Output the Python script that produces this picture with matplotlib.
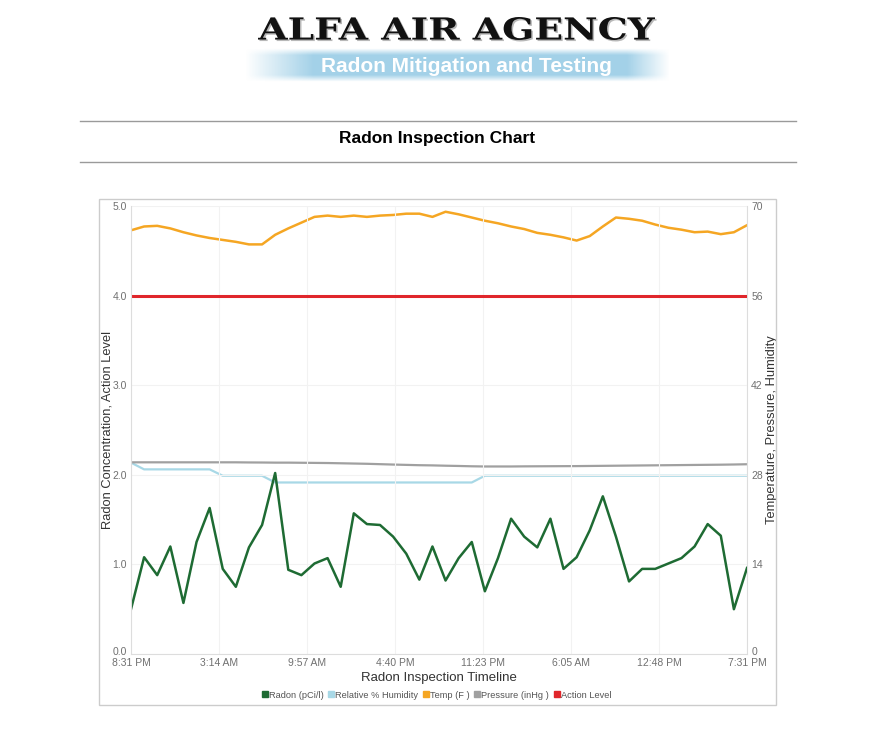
import matplotlib.pyplot as plt
import numpy as np
from matplotlib.lines import Line2D
from matplotlib.patches import Rectangle, PathPatch
from matplotlib.textpath import TextPath
from matplotlib.font_manager import FontProperties
from matplotlib.transforms import Affine2D, IdentityTransform, ScaledTranslation

# hourly readings, 8:31 PM to 7:31 PM (48 points)
radon = [0.50, 1.08, 0.88, 1.20, 0.57, 1.25, 1.63, 0.95, 0.75, 1.19, 1.44, 2.02,
         0.94, 0.88, 1.01, 1.07, 0.75, 1.57, 1.45, 1.44, 1.31, 1.12, 0.83, 1.20,
         0.82, 1.07, 1.25, 0.70, 1.07, 1.51, 1.31, 1.19, 1.51, 0.95, 1.08, 1.38,
         1.76, 1.31, 0.81, 0.95, 0.95, 1.01, 1.07, 1.20, 1.45, 1.32, 0.50, 0.96]
temp = [66.2, 66.8, 66.9, 66.5, 65.9, 65.4, 65.0, 64.7, 64.4, 64.0, 64.0, 65.5,
        66.5, 67.4, 68.3, 68.5, 68.3, 68.5, 68.3, 68.5, 68.6, 68.8, 68.8, 68.3,
        69.1, 68.7, 68.2, 67.7, 67.3, 66.8, 66.4, 65.8, 65.5, 65.1, 64.6, 65.3,
        66.8, 68.2, 68.0, 67.7, 67.1, 66.6, 66.3, 65.9, 66.0, 65.6, 65.9, 67.0]
humidity = [29.9] + [28.85] * 6 + [27.85] * 4 + [26.8] * 16 + [27.85] * 21
pressure = [29.95, 29.95, 29.95, 29.95, 29.95, 29.95, 29.95, 29.95, 29.95, 29.93, 29.92, 29.9,
            29.9, 29.88, 29.86, 29.84, 29.8, 29.76, 29.72, 29.66, 29.6, 29.55, 29.5, 29.47,
            29.42, 29.38, 29.33, 29.3, 29.3, 29.3, 29.32, 29.33, 29.34, 29.35, 29.36, 29.38,
            29.4, 29.42, 29.44, 29.46, 29.48, 29.5, 29.52, 29.54, 29.56, 29.58, 29.61, 29.65]
action_level = [4.0] * 48
hours = np.arange(len(radon))

time_labels = ["8:31 PM", "3:14 AM", "9:57 AM", "4:40 PM", "11:23 PM", "6:05 AM", "12:48 PM", "7:31 PM"]
left_ticks = [0, 1, 2, 3, 4, 5]
right_ticks = [0, 14, 28, 42, 56, 70]

W, H = 887, 744
fig = plt.figure(figsize=(W / 100, H / 100), dpi=100)

def fx(x):
    return x / W

def fy(y):
    return 1 - y / H

narrow = ["Liberation Sans Narrow", "Liberation Sans", "DejaVu Sans"]
sans = ["Liberation Sans", "DejaVu Sans"]

# header logo text, stretched to fill its box (x 258-655, caps y 17-40)
tp = TextPath((0, 0), "ALFA AIR AGENCY", size=40,
              prop=FontProperties(family="DejaVu Serif", weight="bold"))
ext = tp.get_extents()
sx = (655 - 258) / ext.width
sy = (40 - 17) / ext.height
for dx, dy, col, al in ((1.5, -1.5, "#8a8a8a", 0.6), (0, 0, "#111111", 1.0)):
    tr = Affine2D().translate(-ext.x0, -ext.y0).scale(sx, sy).translate(258 + dx, H - 40 + dy)
    fig.add_artist(PathPatch(tr.transform_path(tp), facecolor=col, edgecolor="none",
                             alpha=al, transform=IdentityTransform()))

band = fig.add_axes([fx(245), fy(82), fx(670) - fx(245), fy(48) - fy(82)])
gx = np.linspace(0, 1, 400)
ax_alpha = np.clip(np.minimum(gx / 0.16, (1 - gx) / 0.10), 0, 1)
gy = np.linspace(0, 1, 40)
ay_alpha = np.clip(np.minimum(gy / 0.2, (1 - gy) / 0.2), 0, 1)
img = np.ones((40, 400, 4))
img[..., 0] = 0.64
img[..., 1] = 0.82
img[..., 2] = 0.91
img[..., 3] = np.outer(ay_alpha, ax_alpha)
band.imshow(img, aspect="auto")
band.axis("off")
fig.text(fx(466), fy(66), "Radon Mitigation and Testing", ha="center", va="center",
         family=sans, weight="bold", fontsize=15, color="white")

# title between rules
for yy in (121, 162):
    fig.add_artist(Line2D([fx(80), fx(796)], [fy(yy), fy(yy)], color="#9a9a9a", lw=1))
fig.text(fx(437), fy(139), "Radon Inspection Chart", ha="center", va="center",
         family=sans, weight="bold", fontsize=12.5, color="#000000")

# chart frame
fig.add_artist(Rectangle((fx(99), fy(705)), fx(776) - fx(99), fy(199) - fy(705),
                         fill=False, edgecolor="#cccccc", lw=1))

ax = fig.add_axes([fx(131), fy(654), fx(747) - fx(131), fy(206) - fy(654)])
ax2 = ax.twinx()

ax2.plot(hours, humidity, color="#a8d8e6", lw=1.6)
ax2.plot(hours, pressure, color="#a0a0a0", lw=1.6)
ax2.plot(hours, temp, color="#f5a623", lw=1.8)
ax.plot(hours, action_level, color="#e0262b", lw=2.2)
ax.plot(hours, radon, color="#1e6b33", lw=1.8)

ax.set_zorder(ax2.get_zorder() + 1)
ax.patch.set_visible(False)

ax.set_xlim(0, len(radon) - 1)
ax.set_ylim(0, 5)
ax2.set_ylim(0, 70)
ax.set_xticks(np.linspace(0, len(radon) - 1, len(time_labels)))
ax.set_xticklabels(time_labels)
ax.set_yticks(left_ticks)
ax.set_yticklabels([f"{v:.1f}" for v in left_ticks])
ax2.set_yticks(right_ticks)
ax2.set_yticklabels([str(v) for v in right_ticks])

for a in (ax, ax2):
    a.tick_params(length=0, labelsize=7.5, labelcolor="#707070", pad=3)
    for lab in a.get_xticklabels() + a.get_yticklabels():
        lab.set_family(narrow)
    for s in a.spines.values():
        s.set_visible(False)
ax.spines["left"].set_visible(True)
ax.spines["left"].set_color("#dddddd")
ax.spines["bottom"].set_visible(True)
ax.spines["bottom"].set_color("#dddddd")
ax2.spines["right"].set_visible(True)
ax2.spines["right"].set_color("#dddddd")

# lift the two zero labels a little so they sit above the time labels
lift = ScaledTranslation(0, 3 / 100, fig.dpi_scale_trans)
ax.get_yticklabels()[0].set_transform(ax.get_yticklabels()[0].get_transform() + lift)
ax2.get_yticklabels()[0].set_transform(ax2.get_yticklabels()[0].get_transform() + lift)

ax.grid(True, color="#f2f2f2", lw=0.8)
ax.set_axisbelow(True)

ax.set_xlabel("Radon Inspection Timeline", family=sans, fontsize=9.5, color="#333333", labelpad=3)
ax.set_ylabel("Radon Concentration, Action Level", family=sans, fontsize=9.3, color="#333333", labelpad=-1)
ax2.set_ylabel("Temperature, Pressure, Humidity", family=sans, fontsize=9.3, color="#333333", labelpad=2)

handles = [Line2D([], [], marker="s", ls="none", color=c, markersize=5) for c in
           ("#1e6b33", "#a8d8e6", "#f5a623", "#a0a0a0", "#e0262b")]
names = ["Radon (pCi/l)", "Relative % Humidity", "Temp (F )", "Pressure (inHg )", "Action Level"]
fig.legend(handles, names, loc="center", bbox_to_anchor=(fx(436), fy(695)), ncol=5,
           frameon=False, handletextpad=0.0, columnspacing=0.35, handlelength=0.9,
           prop={"family": narrow, "size": 6.7}, labelcolor="#555555")

fig.savefig("out.png", dpi=100)
